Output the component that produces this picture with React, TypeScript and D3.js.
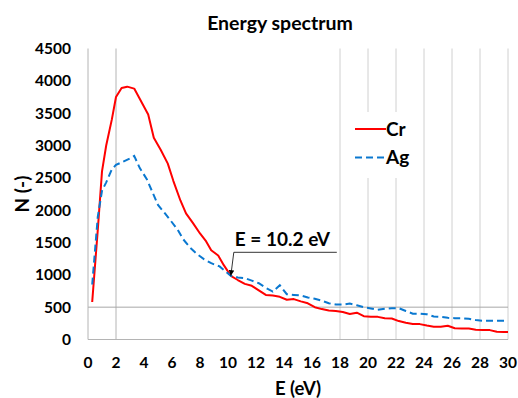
import { useRef, useEffect } from "react"
import * as d3 from "d3"

// Cr spectrum (eV, counts)
const crEnergy = [0.3, 0.7, 1.0, 1.3, 1.7, 2.0, 2.4, 2.8, 3.3, 3.8, 4.3, 4.7, 5.2, 5.7, 6.1, 6.6, 7.0, 7.5, 8.0, 8.4, 8.8, 9.3, 9.7, 10.2, 10.7, 11.2, 11.7, 12.2, 12.7, 13.2, 13.7, 14.2, 14.7, 15.2, 15.7, 16.2, 16.7, 17.2, 17.7, 18.2, 18.7, 19.2, 19.7, 20.2, 20.7, 21.2, 21.7, 22.2, 22.7, 23.2, 23.7, 24.2, 24.7, 25.2, 25.7, 26.2, 26.7, 27.2, 27.7, 28.2, 28.7, 29.2, 29.7, 30.0]
const crCounts = [580, 1700, 2600, 3000, 3400, 3750, 3890, 3910, 3880, 3680, 3480, 3120, 2930, 2720, 2450, 2150, 1950, 1800, 1640, 1530, 1380, 1300, 1150, 985, 920, 860, 830, 760, 690, 680, 660, 615, 625, 590, 560, 500, 470, 450, 440, 425, 395, 415, 360, 350, 350, 330, 325, 285, 260, 240, 238, 215, 197, 197, 212, 175, 172, 170, 150, 145, 145, 120, 115, 115]

// Ag spectrum (eV, counts)
const agEnergy = [0.3, 0.7, 1.0, 1.3, 1.7, 2.0, 2.5, 3.0, 3.3, 3.7, 4.2, 4.6, 5.0, 5.5, 5.9, 6.4, 6.8, 7.3, 7.8, 8.3, 8.8, 9.4, 10.2, 10.7, 11.2, 11.7, 12.2, 12.7, 13.2, 13.7, 14.2, 14.7, 15.2, 15.7, 16.2, 16.7, 17.2, 17.7, 18.2, 18.7, 19.2, 19.7, 20.2, 20.7, 21.2, 21.7, 22.2, 22.7, 23.2, 23.7, 24.2, 24.7, 25.2, 25.7, 26.2, 26.7, 27.2, 27.7, 28.2, 28.7, 29.2, 29.7, 30.0]
const agCounts = [850, 1900, 2300, 2430, 2630, 2700, 2750, 2800, 2840, 2650, 2480, 2280, 2080, 1950, 1840, 1700, 1550, 1420, 1320, 1240, 1180, 1130, 985, 960, 950, 910, 870, 800, 740, 840, 700, 690, 680, 650, 630, 600, 560, 540, 540, 555, 530, 500, 480, 460, 475, 485, 485, 440, 400, 400, 390, 355, 350, 335, 330, 330, 320, 300, 290, 290, 290, 290, 290]

const xTicks = [0, 2, 4, 6, 8, 10, 12, 14, 16, 18, 20, 22, 24, 26, 28, 30]
const yTicks = [0, 500, 1000, 1500, 2000, 2500, 3000, 3500, 4000, 4500]
// the grid lines that the original chart shows
const xGrid = [2, 18, 20, 22, 24, 26, 28, 30]
const yGrid = [500]

const crossing = { energy: 10.2, counts: 985, label: "E = 10.2 eV" }

const font = "Lato, 'Open Sans', sans-serif"
const red = "#ff0000"
const blue = "#0a78d0"

export default function App() {
  const svgRef = useRef<SVGSVGElement | null>(null)

  useEffect(() => {
    if (!svgRef.current) return
    const svg = d3.select(svgRef.current)
    svg.selectAll("*").remove()

    const left = 88
    const right = 508
    const top = 48.5
    const bottom = 339.5

    const x = d3.scaleLinear().domain([0, 30]).range([left, right])
    const y = d3.scaleLinear().domain([0, 4500]).range([bottom, top])

    // Grid lines
    svg
      .append("g")
      .selectAll("line")
      .data(xGrid)
      .enter()
      .append("line")
      .attr("x1", (d) => x(d))
      .attr("x2", (d) => x(d))
      .attr("y1", top)
      .attr("y2", bottom)
      .attr("stroke", (d) => (d === 2 ? "#b4b4b4" : "#d0d0d0"))
      .attr("stroke-width", 1)

    svg
      .append("g")
      .selectAll("line")
      .data(yGrid)
      .enter()
      .append("line")
      .attr("x1", left)
      .attr("x2", right)
      .attr("y1", (d) => y(d))
      .attr("y2", (d) => y(d))
      .attr("stroke", "#a8a8a8")
      .attr("stroke-width", 1)

    // Axes lines
    svg.append("line").attr("x1", left).attr("x2", right).attr("y1", bottom).attr("y2", bottom).attr("stroke", "#b4b4b4")
    svg.append("line").attr("x1", left).attr("x2", left).attr("y1", top).attr("y2", bottom).attr("stroke", "#b4b4b4")

    // Tick labels
    svg
      .append("g")
      .selectAll("text")
      .data(xTicks)
      .enter()
      .append("text")
      .attr("x", (d) => x(d))
      .attr("y", 368)
      .attr("text-anchor", "middle")
      .attr("font-family", font)
      .attr("font-weight", "bold")
      .attr("font-size", "15.5px")
      .text((d) => d)

    svg
      .append("g")
      .selectAll("text")
      .data(yTicks)
      .enter()
      .append("text")
      .attr("x", 71)
      .attr("y", (d) => y(d) + 5.5)
      .attr("text-anchor", "end")
      .attr("font-family", font)
      .attr("font-weight", "bold")
      .attr("font-size", "15.5px")
      .text((d) => d)

    // Titles
    svg
      .append("text")
      .attr("x", 280)
      .attr("y", 30)
      .attr("text-anchor", "middle")
      .attr("font-family", font)
      .attr("font-weight", "bold")
      .attr("font-size", "19.5px")
      .text("Energy spectrum")

    svg
      .append("text")
      .attr("x", (left + right) / 2)
      .attr("y", 395)
      .attr("text-anchor", "middle")
      .attr("font-family", font)
      .attr("font-weight", "bold")
      .attr("font-size", "18.5px")
      .text("E (eV)")

    svg
      .append("text")
      .attr("transform", `translate(29,${(top + bottom) / 2}) rotate(-90)`)
      .attr("text-anchor", "middle")
      .attr("font-family", font)
      .attr("font-weight", "bold")
      .attr("font-size", "19px")
      .text("N (-)")

    // Lines
    const line = d3
      .line<[number, number]>()
      .x((d) => x(d[0]))
      .y((d) => y(d[1]))

    const crData = crEnergy.map((e, i) => [e, crCounts[i]] as [number, number])
    const agData = agEnergy.map((e, i) => [e, agCounts[i]] as [number, number])

    svg
      .append("path")
      .datum(crData)
      .attr("fill", "none")
      .attr("stroke", red)
      .attr("stroke-width", 2)
      .attr("stroke-linejoin", "round")
      .attr("d", line)

    svg
      .append("path")
      .datum(agData)
      .attr("fill", "none")
      .attr("stroke", blue)
      .attr("stroke-width", 2)
      .attr("stroke-dasharray", "7,4")
      .attr("d", line)

    // Legend (white box hides the grid behind it)
    const lg = svg.append("g")
    lg.append("rect").attr("x", 346).attr("y", 112).attr("width", 66).attr("height", 66).attr("fill", "white")
    lg.append("line").attr("x1", 355).attr("x2", 386).attr("y1", 129).attr("y2", 129).attr("stroke", red).attr("stroke-width", 2)
    lg.append("line")
      .attr("x1", 355)
      .attr("x2", 386)
      .attr("y1", 157.5)
      .attr("y2", 157.5)
      .attr("stroke", blue)
      .attr("stroke-width", 2)
      .attr("stroke-dasharray", "7,4")
    lg.append("text").attr("x", 386).attr("y", 136).attr("font-family", font).attr("font-weight", "bold").attr("font-size", "19px").text("Cr")
    lg.append("text").attr("x", 386).attr("y", 164).attr("font-family", font).attr("font-weight", "bold").attr("font-size", "19px").text("Ag")

    // Crossing annotation
    const tipX = x(crossing.energy)
    const tipY = y(crossing.counts)
    const defs = svg.append("defs")
    defs
      .append("marker")
      .attr("id", "arrow")
      .attr("viewBox", "0 0 10 10")
      .attr("refX", 10)
      .attr("refY", 5)
      .attr("markerWidth", 7)
      .attr("markerHeight", 7)
      .attr("orient", "auto")
      .append("path")
      .attr("d", "M0,0 L10,5 L0,10 z")
      .attr("fill", "black")

    svg
      .append("path")
      .attr("d", `M${tipX + 106},${tipY - 23.5} L${tipX + 3},${tipY - 23.5} L${tipX},${tipY}`)
      .attr("fill", "none")
      .attr("stroke", "black")
      .attr("stroke-width", 0.8)
      .attr("marker-end", "url(#arrow)")

    svg
      .append("text")
      .attr("x", tipX + 4)
      .attr("y", tipY - 30)
      .attr("font-family", font)
      .attr("font-weight", "bold")
      .attr("font-size", "19px")
      .text(crossing.label)
  }, [])

  return <svg ref={svgRef} width={518} height={398} style={{ position: "absolute", left: 0, top: 0, background: "white" }}></svg>
}
